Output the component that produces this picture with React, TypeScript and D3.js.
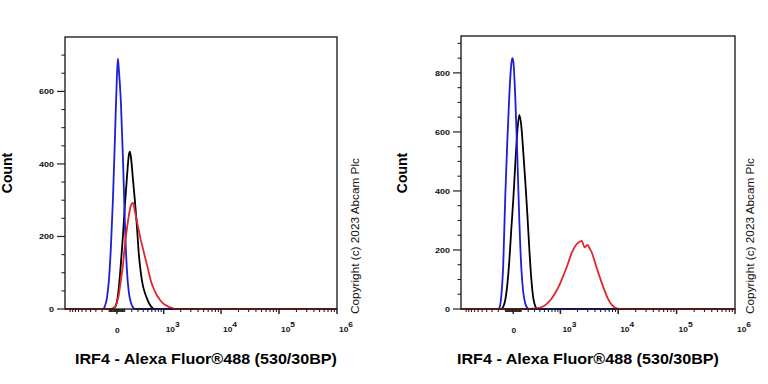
import * as d3 from "d3";

// biexponential-ish display: pixel ~ asinh(value / C)
const C = 320;
const X_MIN = -1236;
const X_MAX = 1e6;

const xMajor = [0, 1e3, 1e4, 1e5, 1e6];
const xDecadeLabels = ["3", "4", "5", "6"];
const xMinor = [
  ...d3.range(-1000, 0, 100),
  ...d3.range(-90, 0, 10),
  ...d3.range(10, 100, 10),
  ...d3.range(100, 1000, 100),
  ...d3.range(2000, 10000, 1000),
  ...d3.range(20000, 100000, 10000),
  ...d3.range(200000, 1000000, 100000),
];

const leftYMax = 750;
const leftYLabels = [0, 200, 400, 600];
const rightYMax = 925;
const rightYLabels = [0, 200, 400, 600, 800];

type Pt = [number, number];

// left panel: [intensity, count]
const leftBlue: Pt[] = [
  [-187, 0], [-158, 8], [-130, 30], [-103, 80], [-77, 170], [-51, 300], [-25, 470],
  [0, 640], [13, 690], [25, 660], [51, 570], [77, 420], [103, 240], [130, 110],
  [158, 45], [187, 18], [217, 5], [248, 0],
];
const leftBlack: Pt[] = [
  [-77, 0], [-25, 5], [0, 20], [25, 60], [51, 126], [77, 200], [103, 285], [130, 360],
  [158, 425], [172, 434], [187, 420], [217, 360], [248, 300], [281, 230], [316, 150],
  [352, 100], [391, 65], [433, 45], [477, 30], [524, 17], [574, 8], [628, 2], [686, 0],
];
const leftRed: Pt[] = [
  [-77, 0], [-25, 6], [0, 18], [25, 40], [51, 80], [77, 120], [103, 175], [130, 220],
  [158, 258], [187, 285], [217, 293], [248, 270], [281, 243], [316, 215], [352, 190],
  [391, 168], [433, 145], [477, 123], [524, 100], [574, 78], [628, 62], [686, 49],
  [748, 38], [815, 30], [887, 22], [965, 16], [1049, 12], [1139, 9], [1236, 6],
  [1342, 4], [1455, 2], [1578, 0],
];

// right panel
const rightBlue: Pt[] = [
  [-217, 0], [-187, 3], [-158, 40], [-130, 150], [-103, 380], [-77, 560], [-51, 720],
  [-25, 830], [-13, 850], [0, 840], [25, 720], [51, 520], [77, 300], [103, 140],
  [130, 55], [158, 18], [187, 4], [217, 0],
];
const rightBlack: Pt[] = [
  [-158, 0], [-130, 8], [-103, 30], [-77, 80], [-51, 160], [-25, 270], [0, 370],
  [25, 490], [51, 600], [77, 658], [103, 620], [130, 530], [158, 430], [187, 320],
  [217, 200], [248, 100], [281, 35], [316, 8], [352, 0],
];
const rightRed: Pt[] = [
  [187, 0], [248, 1], [316, 2], [391, 4], [477, 9], [574, 20], [686, 35], [815, 56],
  [965, 82], [1139, 115], [1342, 150], [1578, 189], [1854, 215], [2177, 228],
  [2359, 231], [2659, 209], [2996, 217], [3246, 205], [3514, 192], [4120, 150],
  [4833, 108], [5664, 70], [6637, 36], [7779, 14], [9117, 3], [10682, 0],
];

const BLUE = "#1e1ed8";
const BLACK = "#000000";
const RED = "#e3262a";
const FONT = "Arial, 'Liberation Sans', Helvetica, sans-serif";
const TITLE = "IRF4 - Alexa Fluor\u00AE488 (530/30BP)";
const COPY = "Copyright (c) 2023  Abcam  Plc";

type PanelProps = {
  left: number;
  right: number;
  top: number;
  bottom: number;
  yMax: number;
  yLabels: number[];
  series: { data: Pt[]; color: string }[];
  countX: number;
  titleX: number;
  copyX: number;
};

const Panel = ({ left, right, top, bottom, yMax, yLabels, series, countX, titleX, copyX }: PanelProps) => {
  const xs = d3
    .scaleLinear()
    .domain([Math.asinh(X_MIN / C), Math.asinh(X_MAX / C)])
    .range([left, right]);
  const x = (v: number) => xs(Math.asinh(v / C));
  const y = d3.scaleLinear().domain([0, yMax]).range([bottom, top]);

  const line = d3
    .line<Pt>()
    .x((d) => x(d[0]))
    .y((d) => y(d[1]))
    .curve(d3.curveMonotoneX);

  const yMinor = d3.range(0, yMax, 50).filter((v) => !yLabels.includes(v));

  return (
    <g fontFamily={FONT}>
      {series.map((s, i) => (
        <path
          key={i}
          d={line([[X_MIN, 0], ...s.data, [X_MAX, 0]]) ?? ""}
          fill="none"
          stroke={s.color}
          strokeWidth={1.8}
        />
      ))}
      <rect x={left} y={top} width={right - left} height={bottom - top} fill="none" stroke="#111" strokeWidth={1.3} />

      {/* y axis */}
      {yMinor.map((v) => (
        <line key={"ym" + v} x1={left - 3.5} x2={left} y1={y(v)} y2={y(v)} stroke="#222" strokeWidth={1.1} />
      ))}
      {yLabels.map((v) => (
        <g key={"yl" + v}>
          <line x1={left - 8} x2={left} y1={y(v)} y2={y(v)} stroke="#222" strokeWidth={1.2} />
          <text
            transform={`translate(${left - 11},${y(v) + 2.7}) scale(1.2,1)`}
            textAnchor="end"
            fontSize={7.5}
            fontWeight="bold"
            fill="#111"
          >
            {v}
          </text>
        </g>
      ))}

      {/* x axis */}
      {xMinor.map((v) => (
        <line key={"xm" + v} x1={x(v)} x2={x(v)} y1={bottom} y2={bottom + 3} stroke="#222" strokeWidth={1.1} />
      ))}
      {xMajor.map((v) => (
        <line key={"xM" + v} x1={x(v)} x2={x(v)} y1={bottom} y2={bottom + 5} stroke="#222" strokeWidth={1.5} />
      ))}
      <text
        transform={`translate(${x(0) + 0.5},332.5) scale(1.2,1)`}
        textAnchor="middle"
        fontSize={7}
        fontWeight="bold"
        fill="#111"
      >
        0
      </text>
      {xMajor.slice(1).map((v, i) => (
        <text
          key={"xl" + v}
          transform={`translate(${x(v) + 2},332.3) scale(1.2,1)`}
          fontSize={7}
          fontWeight="bold"
          fill="#111"
        >
          10
          <tspan dy={-5.6} fontSize={7}>
            {xDecadeLabels[i]}
          </tspan>
        </text>
      ))}

      <text
        transform={`translate(${countX},173) rotate(-90)`}
        textAnchor="middle"
        fontSize={14}
        fontWeight="bold"
      >
        Count
      </text>
      <text x={titleX} y={364} fontSize={14} fontWeight="bold" textLength={262} lengthAdjust="spacingAndGlyphs">
        {TITLE}
      </text>
      <text
        transform={`translate(${copyX},314) rotate(-90)`}
        fontSize={11}
        textLength={156}
        lengthAdjust="spacingAndGlyphs"
        fill="#111"
      >
        {COPY}
      </text>
    </g>
  );
};

const App = () => {
  return (
    <svg
      width={768}
      height={384}
      style={{ position: "absolute", left: 0, top: 0, background: "#fff" }}
    >
      <rect width={768} height={384} fill="#fff" />
      <Panel
        left={65}
        right={337}
        top={37}
        bottom={309}
        yMax={leftYMax}
        yLabels={leftYLabels}
        series={[
          { data: leftBlack, color: BLACK },
          { data: leftBlue, color: BLUE },
          { data: leftRed, color: RED },
        ]}
        countX={12}
        titleX={75}
        copyX={358.5}
      />
      <Panel
        left={461}
        right={735}
        top={36}
        bottom={309}
        yMax={rightYMax}
        yLabels={rightYLabels}
        series={[
          { data: rightBlack, color: BLACK },
          { data: rightBlue, color: BLUE },
          { data: rightRed, color: RED },
        ]}
        countX={407}
        titleX={457}
        copyX={753.5}
      />
    </svg>
  );
};

export default App;
